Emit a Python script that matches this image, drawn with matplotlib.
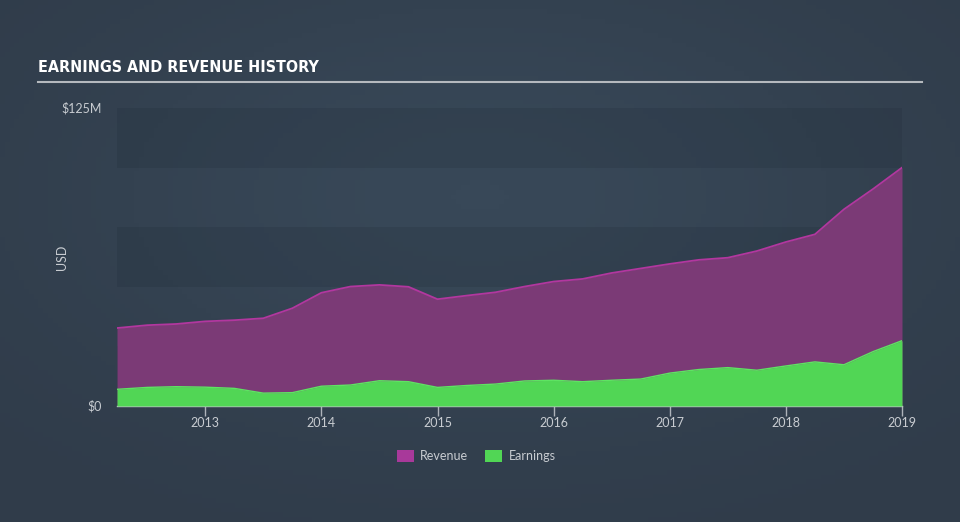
import numpy as np
import matplotlib
matplotlib.use("Agg")
import matplotlib.pyplot as plt
import matplotlib.patches as pat

####################################################################################
# Data (USD millions)

years = [2012.24, 2012.5, 2012.75, 2013.0, 2013.25, 2013.5, 2013.75, 2014.0,
         2014.25, 2014.5, 2014.75, 2015.0, 2015.25, 2015.5, 2015.75, 2016.0,
         2016.25, 2016.5, 2016.75, 2017.0, 2017.25, 2017.5, 2017.75, 2018.0,
         2018.25, 2018.5, 2018.75, 2019.0]

revenue = [32.7, 33.9, 34.4, 35.5, 36.0, 36.8, 41.0, 47.5,
           50.1, 50.8, 50.0, 44.8, 46.3, 47.7, 50.1, 52.2,
           53.3, 55.8, 57.7, 59.6, 61.3, 62.2, 65.0, 68.8,
           72.0, 82.5, 91.0, 100.0]

earnings = [7.0, 7.8, 8.1, 7.9, 7.4, 5.4, 5.6, 8.3,
            8.8, 10.6, 10.2, 7.8, 8.6, 9.2, 10.5, 10.8,
            10.2, 10.8, 11.3, 13.8, 15.3, 16.1, 15.0, 16.8,
            18.5, 17.3, 22.8, 27.4]

tick_years = [2013, 2014, 2015, 2016, 2017, 2018, 2019]
y_ticks = [0, 125]
y_tick_labels = ["$0", "$125M"]

####################################################################################
# Styling

bg_col = '#333f4d'
rev_fill = '#7b3a76'
rev_line = '#b2379f'
earn_fill = '#51d655'
earn_line = '#5ee462'
text_col = '#c8ccd1'

plt.rcParams['font.family'] = ['Lato', 'DejaVu Sans']

fig = plt.figure(figsize=(9.6, 5.22), dpi=100)
fig.patch.set_facecolor(bg_col)

# soft radial background glow
bg_ax = fig.add_axes([0, 0, 1, 1], zorder=-10)
gx, gy = np.meshgrid(np.linspace(-1, 1, 200), np.linspace(-1, 1, 110))
glow = np.exp(-((gx / 0.9) ** 2 + ((gy + 0.25) / 0.9) ** 2))
bg_ax.imshow(glow, cmap=matplotlib.colors.LinearSegmentedColormap.from_list('bg', ['#303c4a', '#384858']),
             extent=[0, 1, 0, 1], aspect='auto', origin='upper')
bg_ax.axis('off')

ax = fig.add_axes([117/960, 1 - 406/522, (902 - 117)/960, (406 - 108)/522])
ax.set_facecolor('none')

# alternating bands
for lo in [0, 50, 100]:
    ax.axhspan(lo, lo + 25, color='#1e2a36', alpha=0.2, lw=0, zorder=0)

ax.fill_between(years, 0, revenue, color=rev_fill, lw=0, zorder=2)
ax.plot(years, revenue, color=rev_line, lw=1.3, zorder=3)
ax.fill_between(years, 0, earnings, color=earn_fill, lw=0, zorder=4)
ax.plot(years, earnings, color=earn_line, lw=1.0, zorder=5)

ax.set_xlim(years[0], years[-1])
ax.set_ylim(0, 125)

for s in ['top', 'right', 'left']:
    ax.spines[s].set_visible(False)
ax.spines['bottom'].set_color('#c3c7cc')
ax.spines['bottom'].set_linewidth(1.0)

ax.set_xticks(tick_years)
ax.set_xticklabels([str(y) for y in tick_years])
ax.tick_params(axis='x', colors='#aeb3ba', labelcolor=text_col, length=7, width=1, labelsize=9, pad=1)
ax.set_yticks(y_ticks)
ax.set_yticklabels(y_tick_labels)
ax.tick_params(axis='y', length=0, labelcolor=text_col, labelsize=9, pad=11)
for lbl in ax.get_yticklabels():
    lbl.set_verticalalignment('center')

ax.set_ylabel("USD", color=text_col, fontsize=9)
ax.yaxis.set_label_coords(-0.0624, 0.5)

# title and rule
fig.text(38/960, 1 - 68/522, "EARNINGS AND REVENUE HISTORY", color='white', fontsize=11.5,
         fontweight='bold', fontstretch='condensed', family=['DejaVu Sans'], va='center', ha='left')
fig.add_artist(plt.Line2D([38/960, 922/960], [1 - 81.5/522, 1 - 81.5/522], color='#b5b9be', lw=1.5))

# legend
leg_handles = [pat.Patch(facecolor='#a8399a', label='Revenue'),
               pat.Patch(facecolor=earn_fill, label='Earnings')]
leg = fig.legend(handles=leg_handles, loc='center', bbox_to_anchor=(476/960, 1 - 456/522), ncol=2,
                 frameon=False, fontsize=9, handlelength=1.4, handleheight=1.1, columnspacing=1.3,
                 handletextpad=0.5)
for t in leg.get_texts():
    t.set_color(text_col)

fig.savefig('out.png', dpi=100, facecolor=fig.get_facecolor())
